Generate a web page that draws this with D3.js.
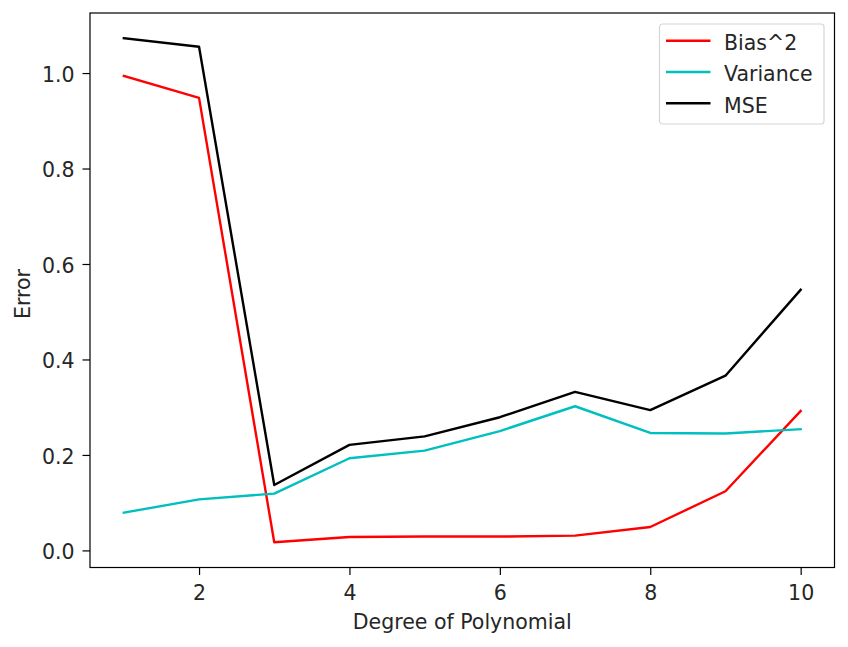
<!DOCTYPE html>
<html>
<head>
<meta charset="utf-8">
<script src="https://cdn.jsdelivr.net/npm/d3@7"></script>
<style>
  body { margin: 0; background: #fff; }
  svg { font-family: "DejaVu Sans", sans-serif; }
</style>
</head>
<body>
<svg id="chart" width="848" height="647"></svg>
<script>
const degrees = [1, 2, 3, 4, 5, 6, 7, 8, 9, 10];
const bias2 = [0.994, 0.948, 0.017, 0.028, 0.029, 0.029, 0.031, 0.049, 0.124, 0.292];
const variance = [0.079, 0.107, 0.119, 0.193, 0.209, 0.250, 0.302, 0.246, 0.245, 0.254];
const mse = [1.073, 1.055, 0.137, 0.221, 0.239, 0.279, 0.332, 0.294, 0.366, 0.546];
const xTicks = [2, 4, 6, 8, 10];
const yTicks = [0.0, 0.2, 0.4, 0.6, 0.8, 1.0];

const series = [
    { name: "Bias^2", values: bias2, color: "#ff0000" },
    { name: "Variance", values: variance, color: "#00bfbf" },
    { name: "MSE", values: mse, color: "#000000" }
];

const svg = d3.select("#chart");
const plotLeft = 90, plotRight = 834.5, plotTop = 13, plotBottom = 567.5;
const fontSize = 20.5;

// matplotlib style 5% margins
const all = [].concat(bias2, variance, mse);
const yMin = d3.min(all), yMax = d3.max(all);
const yPad = (yMax - yMin) * 0.05;
const xPad = (d3.max(degrees) - d3.min(degrees)) * 0.05;

const x = d3.scaleLinear()
    .domain([d3.min(degrees) - xPad, d3.max(degrees) + xPad])
    .range([plotLeft, plotRight]);
const y = d3.scaleLinear()
    .domain([yMin - yPad, yMax + yPad])
    .range([plotBottom, plotTop]);

const line = d3.line()
    .x((d, i) => x(degrees[i]))
    .y(d => y(d));

svg.selectAll("path.series")
    .data(series)
    .enter().append("path")
    .attr("class", "series")
    .attr("d", d => line(d.values))
    .attr("fill", "none")
    .attr("stroke", d => d.color)
    .attr("stroke-width", 2.4)
    .attr("stroke-linejoin", "round")
    .attr("stroke-linecap", "square");

const xAxis = svg.append("g")
    .attr("transform", `translate(0,${plotBottom})`)
    .call(d3.axisBottom(x).tickValues(xTicks).tickFormat(d3.format("d")).tickSize(7.5).tickPadding(10).tickSizeOuter(0));
const yAxis = svg.append("g")
    .attr("transform", `translate(${plotLeft},0)`)
    .call(d3.axisLeft(y).tickValues(yTicks).tickFormat(d3.format(".1f")).tickSize(7.5).tickPadding(8).tickSizeOuter(0));

[xAxis, yAxis].forEach(g => {
    g.select(".domain").remove();
    g.selectAll("line").attr("stroke", "#000").attr("stroke-width", 1.2);
    g.selectAll("text").attr("font-size", fontSize).attr("fill", "#262626")
        .attr("font-family", "DejaVu Sans, sans-serif");
});
yAxis.selectAll("text").attr("dy", "0.4em");

svg.append("rect")
    .attr("x", plotLeft).attr("y", plotTop)
    .attr("width", plotRight - plotLeft).attr("height", plotBottom - plotTop)
    .attr("fill", "none").attr("stroke", "#000").attr("stroke-width", 1.2);

svg.append("text")
    .attr("x", (plotLeft + plotRight) / 2).attr("y", 629)
    .attr("text-anchor", "middle")
    .attr("font-size", fontSize).attr("fill", "#262626")
    .text("Degree of Polynomial");

svg.append("text")
    .attr("transform", "translate(30,294) rotate(-90)")
    .attr("text-anchor", "middle")
    .attr("font-size", fontSize).attr("fill", "#262626")
    .text("Error");

// legend
const legend = svg.append("g").attr("transform", "translate(659.5,24)");
legend.append("rect")
    .attr("width", 164.5).attr("height", 100)
    .attr("rx", 3)
    .attr("fill", "#fff").attr("fill-opacity", 0.8)
    .attr("stroke", "#d6d6d6").attr("stroke-width", 1.2);

const rows = legend.selectAll("g.row")
    .data(series)
    .enter().append("g")
    .attr("class", "row")
    .attr("transform", (d, i) => `translate(0,${16.7 + i * 31.3})`);
rows.append("line")
    .attr("x1", 6.5).attr("x2", 51)
    .attr("stroke", d => d.color).attr("stroke-width", 2.4);
rows.append("text")
    .attr("x", 64.5).attr("y", 9.3)
    .attr("font-size", fontSize).attr("fill", "#262626")
    .text(d => d.name);
</script>
</body>
</html>
